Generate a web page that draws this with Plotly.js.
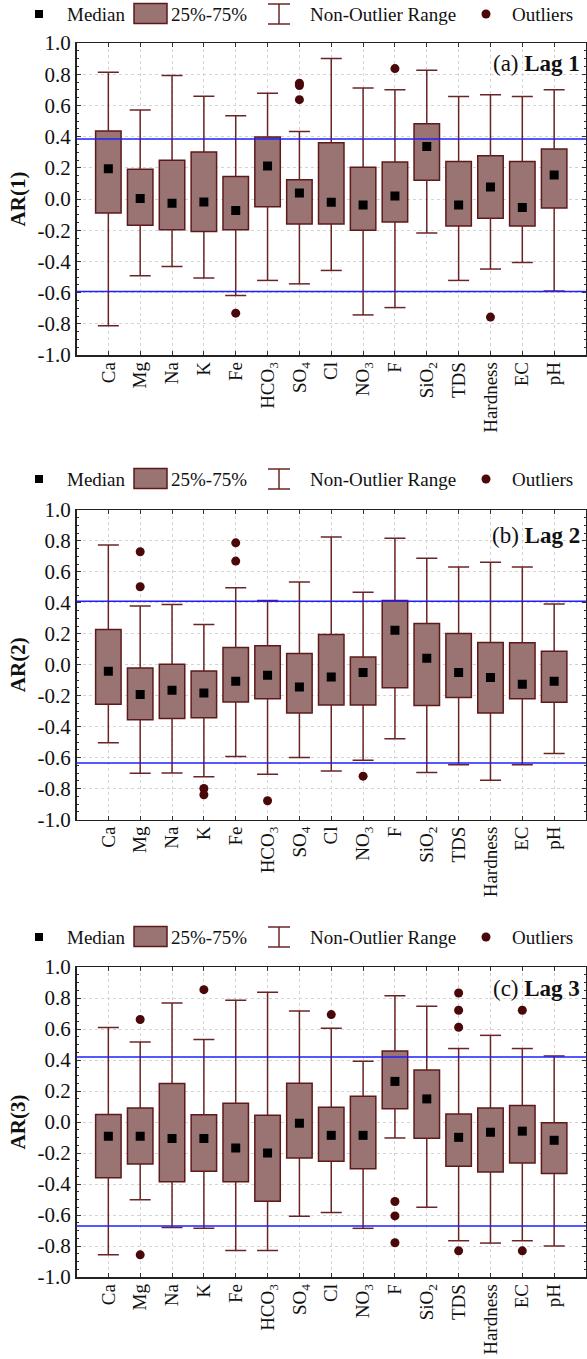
<!DOCTYPE html>
<html>
<head>
<meta charset="utf-8">
<script src="https://cdn.plot.ly/plotly-3.0.1.min.js"></script>
<style>html,body{margin:0;padding:0;background:#fff;}#chart{width:587px;height:1359px;}</style>
</head>
<body>
<div id="chart"></div>
<script>
// ---------- DATA ----------
const catKeys = ['Ca','Mg','Na','K','Fe','HCO3','SO4','Cl','NO3','F','SiO2','TDS','Hardness','EC','pH'];
const tickLabels = ['Ca','Mg','Na','K','Fe','HCO<sub>3</sub>','SO<sub>4</sub>','Cl','NO<sub>3</sub>','F','SiO<sub>2</sub>','TDS','Hardness','EC','pH'];

// Lag 1
const lag1Lower  = [-0.813,-0.492,-0.432,-0.507,-0.619,-0.522,-0.544,-0.458,-0.743,-0.696,-0.218,-0.522,-0.449,-0.407,-0.590];
const lag1Q1     = [-0.090,-0.169,-0.197,-0.208,-0.197,-0.049,-0.160,-0.160,-0.201,-0.148, 0.120,-0.173,-0.124,-0.173,-0.058];
const lag1Median = [ 0.194, 0.004,-0.028,-0.019,-0.073, 0.212, 0.039,-0.021,-0.039, 0.019, 0.336,-0.039, 0.077,-0.054, 0.154];
const lag1Q3     = [ 0.436, 0.190, 0.248, 0.301, 0.145, 0.398, 0.124, 0.360, 0.203, 0.237, 0.483, 0.241, 0.278, 0.241, 0.321];
const lag1Upper  = [ 0.813, 0.571, 0.791, 0.659, 0.533, 0.678, 0.432, 0.900, 0.712, 0.700, 0.825, 0.657, 0.669, 0.657, 0.700];
const lag1OutCat = ['SO4','SO4','SO4','F','Fe','Hardness'];
const lag1OutVal = [0.742, 0.727, 0.637, 0.836, -0.732, -0.757];

// Lag 2
const lag2Lower  = [-0.504,-0.701,-0.700,-0.723,-0.593,-0.708,-0.600,-0.686,-0.617,-0.478,-0.697,-0.647,-0.747,-0.647,-0.573];
const lag2Q1     = [-0.256,-0.355,-0.348,-0.342,-0.240,-0.219,-0.312,-0.260,-0.260,-0.148,-0.264,-0.212,-0.312,-0.219,-0.243];
const lag2Median = [-0.042,-0.193,-0.165,-0.183,-0.107,-0.068,-0.144,-0.079,-0.050, 0.223, 0.042,-0.050,-0.083,-0.126,-0.107];
const lag2Q3     = [ 0.228,-0.021, 0.003,-0.040, 0.111, 0.122, 0.072, 0.196, 0.050, 0.415, 0.267, 0.202, 0.144, 0.142, 0.087];
const lag2Upper  = [ 0.774, 0.379, 0.390, 0.260, 0.497, 0.415, 0.534, 0.825, 0.469, 0.817, 0.689, 0.631, 0.663, 0.631, 0.392];
const lag2OutCat = ['Mg','Mg','Fe','Fe','K','K','HCO3','NO3'];
const lag2OutVal = [0.730, 0.504, 0.788, 0.670, -0.800, -0.840, -0.879, -0.720];

// Lag 3
const lag3Lower  = [-0.857,-0.502,-0.680,-0.686,-0.829,-0.829,-0.608,-0.584,-0.686,-0.103,-0.550,-0.766,-0.781,-0.766,-0.800];
const lag3Q1     = [-0.360,-0.271,-0.386,-0.318,-0.386,-0.512,-0.232,-0.254,-0.302, 0.086,-0.105,-0.286,-0.323,-0.265,-0.333];
const lag3Median = [-0.092,-0.092,-0.107,-0.107,-0.168,-0.200,-0.008,-0.086,-0.086, 0.262, 0.149,-0.099,-0.066,-0.059,-0.118];
const lag3Q3     = [ 0.048, 0.090, 0.248, 0.046, 0.121, 0.044, 0.250, 0.095, 0.166, 0.458, 0.336, 0.052, 0.090, 0.107,-0.005];
const lag3Upper  = [ 0.609, 0.516, 0.768, 0.532, 0.785, 0.837, 0.716, 0.605, 0.392, 0.815, 0.746, 0.474, 0.559, 0.474, 0.426];
const lag3OutCat = ['Mg','Mg','K','Cl','F','F','F','TDS','TDS','TDS','TDS','EC','EC'];
const lag3OutVal = [0.661,-0.857, 0.854, 0.693,-0.513,-0.606,-0.779, 0.832, 0.721, 0.611,-0.831, 0.721,-0.831];

// Confidence limits (blue lines) per lag
const upperLimit = [0.385, 0.410, 0.420];
const lowerLimit = [-0.593, -0.635, -0.671];

const yTickVals = [-1.0,-0.8,-0.6,-0.4,-0.2,0.0,0.2,0.4,0.6,0.8,1.0];
const yTickText = ['-1.0','-0.8','-0.6','-0.4','-0.2','0.0','0.2','0.4','0.6','0.8','1.0'];
const panelLabels = ['(a) <b>Lag 1</b>','(b) <b>Lag 2</b>','(c) <b>Lag 3</b>'];
const yTitles = ['AR(1)','AR(2)','AR(3)'];
const legendLabels = ['Median','25%-75%','Non-Outlier Range','Outliers'];

// ---------- STYLE ----------
const W = 587, H = 1359;
const FONT = 'Liberation Serif, Times New Roman, serif';
const BOX_FILL = '#9a7373';
const BOX_LINE = '#5e1a1a';
const WHISK = '#6a2424';
const OUT_COL = '#4a0808';
const BLUE = '#1f1fff';
const CAP = 0.33;
const panelTopPx = [43, 510, 967];
const panelBotPx = [355, 819.5, 1277];
const legendPx = [14, 479, 937];
const annYDom = [0.935, 0.917, 0.932];
const X = px => px / W;
const Y = py => 1 - py / H;

const panels = [
  {lower: lag1Lower, q1: lag1Q1, med: lag1Median, q3: lag1Q3, upper: lag1Upper, oc: lag1OutCat, ov: lag1OutVal},
  {lower: lag2Lower, q1: lag2Q1, med: lag2Median, q3: lag2Q3, upper: lag2Upper, oc: lag2OutCat, ov: lag2OutVal},
  {lower: lag3Lower, q1: lag3Q1, med: lag3Median, q3: lag3Q3, upper: lag3Upper, oc: lag3OutCat, ov: lag3OutVal}
];

const idx = catKeys.map((_, i) => i);
const traces = [];
const layout = {
  width: W, height: H,
  margin: {l: 0, r: 0, t: 0, b: 0},
  paper_bgcolor: '#fff', plot_bgcolor: '#fff',
  showlegend: false,
  font: {family: FONT, size: 19, color: '#111'},
  barmode: 'overlay',
  shapes: [], annotations: []
};

panels.forEach((p, k) => {
  const s = k === 0 ? '' : String(k + 1);
  const xa = 'x' + s, ya = 'y' + s;

  // boxes (25%-75%)
  traces.push({
    type: 'bar', x: idx, base: p.q1, y: p.q3.map((v, i) => v - p.q1[i]),
    width: 0.8, xaxis: xa, yaxis: ya,
    marker: {color: BOX_FILL, line: {color: BOX_LINE, width: 1.5}},
    hoverinfo: 'skip'
  });

  // whiskers with caps (non-outlier range)
  const wx = [], wy = [];
  idx.forEach(i => {
    wx.push(i, i, null, i - CAP, i + CAP, null, i, i, null, i - CAP, i + CAP, null);
    wy.push(p.q3[i], p.upper[i], null, p.upper[i], p.upper[i], null,
            p.q1[i], p.lower[i], null, p.lower[i], p.lower[i], null);
  });
  traces.push({
    type: 'scatter', mode: 'lines', x: wx, y: wy, xaxis: xa, yaxis: ya,
    line: {color: WHISK, width: 1.5}, connectgaps: false, hoverinfo: 'skip'
  });

  // medians
  traces.push({
    type: 'scatter', mode: 'markers', x: idx, y: p.med, xaxis: xa, yaxis: ya,
    marker: {symbol: 'square', size: 9, color: '#000'}
  });

  // outliers
  traces.push({
    type: 'scatter', mode: 'markers', x: p.oc.map(c => catKeys.indexOf(c)), y: p.ov,
    xaxis: xa, yaxis: ya,
    marker: {symbol: 'circle', size: 9, color: OUT_COL}
  });

  // axes
  layout['xaxis' + s] = {
    domain: [X(76.5), X(586)], anchor: ya, range: [-1, 15],
    tickmode: 'array', tickvals: idx, ticktext: tickLabels, tickangle: -90,
    ticks: 'inside', ticklen: 4, tickcolor: '#333', ticklabelstandoff: -2,
    showline: true, linecolor: '#222', linewidth: 1.5, mirror: 'ticks',
    showgrid: true, gridcolor: '#d4d4d4', griddash: 'dot', gridwidth: 1,
    zeroline: false, tickfont: {family: FONT, size: 19, color: '#111'}
  };
  layout['yaxis' + s] = {
    domain: [Y(panelBotPx[k]), Y(panelTopPx[k])], anchor: xa, range: [-1, 1],
    tickmode: 'array', tickvals: yTickVals, ticktext: yTickText,
    ticks: 'inside', ticklen: 4, tickcolor: '#333',
    minor: {ticks: 'inside', ticklen: 2, dtick: 0.05, tick0: 0, tickcolor: '#333', showgrid: false},
    showline: true, linecolor: '#222', linewidth: 1.5, mirror: 'ticks',
    showgrid: true, gridcolor: '#d4d4d4', griddash: 'dot', gridwidth: 1,
    zeroline: false, tickfont: {family: FONT, size: 21, color: '#111'},
    title: {text: '<b>' + yTitles[k] + '</b>', font: {family: FONT, size: 21, color: '#111'}, standoff: 6}
  };

  // confidence limits
  [upperLimit[k], lowerLimit[k]].forEach(v => {
    layout.shapes.push({type: 'line', xref: xa + ' domain', yref: ya, x0: 0, x1: 1, y0: v, y1: v,
      line: {color: BLUE, width: 1.5}});
  });

  // panel label
  layout.annotations.push({
    xref: xa + ' domain', yref: ya + ' domain', x: 0.992, y: annYDom[k],
    xanchor: 'right', yanchor: 'middle', showarrow: false,
    text: panelLabels[k], font: {family: FONT, size: 23, color: '#111'}
  });

  // legend row
  const cy = legendPx[k];
  layout.shapes.push({type: 'rect', xref: 'paper', yref: 'paper',
    x0: X(35), x1: X(43), y0: Y(cy + 4), y1: Y(cy - 4), fillcolor: '#000', line: {width: 0}});
  layout.shapes.push({type: 'rect', xref: 'paper', yref: 'paper',
    x0: X(134), x1: X(167), y0: Y(cy + 9.5), y1: Y(cy - 10.5), fillcolor: BOX_FILL, line: {color: BOX_LINE, width: 1.5}});
  layout.shapes.push({type: 'line', xref: 'paper', yref: 'paper',
    x0: X(268), x1: X(290), y0: Y(cy - 10), y1: Y(cy - 10), line: {color: WHISK, width: 1.5}});
  layout.shapes.push({type: 'line', xref: 'paper', yref: 'paper',
    x0: X(279), x1: X(279), y0: Y(cy - 10), y1: Y(cy + 10), line: {color: WHISK, width: 1.5}});
  layout.shapes.push({type: 'line', xref: 'paper', yref: 'paper',
    x0: X(268), x1: X(290), y0: Y(cy + 10), y1: Y(cy + 10), line: {color: WHISK, width: 1.5}});
  layout.shapes.push({type: 'circle', xref: 'paper', yref: 'paper',
    x0: X(481.5), x1: X(490.5), y0: Y(cy + 4.5), y1: Y(cy - 4.5), fillcolor: OUT_COL, line: {width: 0}});
  [[65, 0], [169, 1], [308, 2], [510, 3]].forEach(([px, li]) => {
    layout.annotations.push({xref: 'paper', yref: 'paper', x: X(px), y: Y(cy), xanchor: 'left', yanchor: 'middle',
      showarrow: false, text: legendLabels[li], font: {family: FONT, size: 19, color: '#111'}});
  });
});

Plotly.newPlot('chart', traces, layout, {staticPlot: true, displayModeBar: false});
</script>
</body>
</html>
